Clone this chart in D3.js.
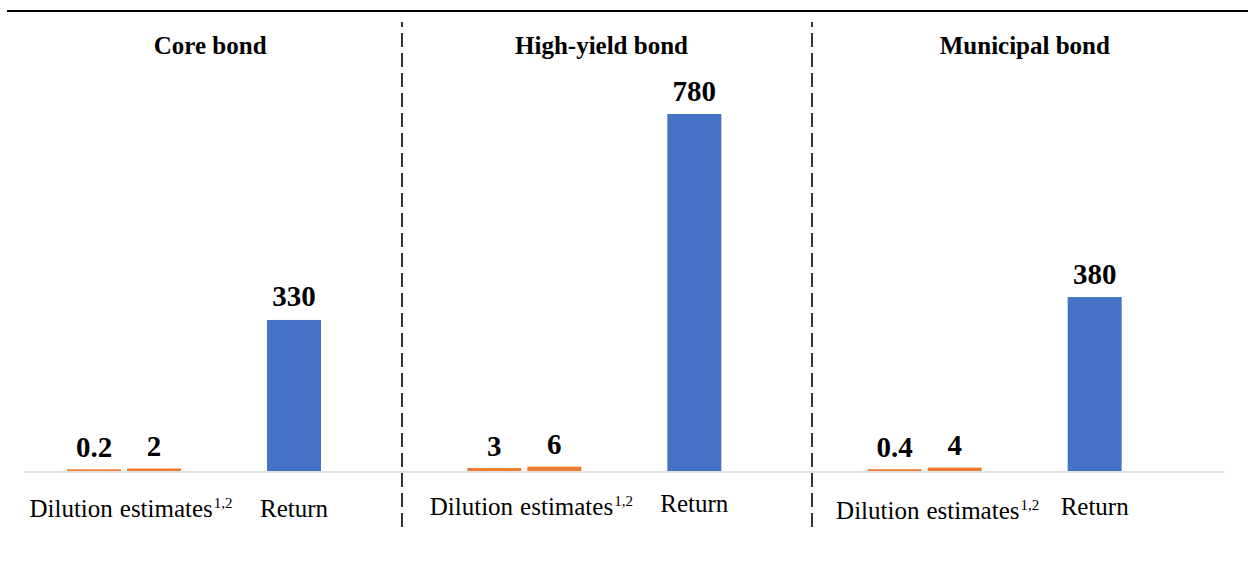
<!DOCTYPE html>
<html>
<head>
<meta charset="utf-8">
<script src="https://cdn.jsdelivr.net/npm/d3@7"></script>
<style>
  html, body { margin: 0; padding: 0; background: #ffffff; }
  svg { display: block; }
</style>
</head>
<body>
<svg id="chart" width="1248" height="566"></svg>
<script>
// Bond categories shown as side-by-side panels
const panels = ["Core bond", "High-yield bond", "Municipal bond"];
// Two dilution estimates per panel (orange) and the return (blue)
const dilutionA = [0.2, 3, 0.4];
const dilutionB = [2, 6, 4];
const returns = [330, 780, 380];
// Value labels as printed above each bar
const dilutionALabels = ["0.2", "3", "0.4"];
const dilutionBLabels = ["2", "6", "4"];
const returnLabels = ["330", "780", "380"];
// Axis captions
const groupNames = ["Dilution", "Return"];

const W = 1248, H = 566;
const FONT = "'Liberation Serif', 'Times New Roman', 'DejaVu Serif', serif";
const svg = d3.select("#chart").attr("font-family", FONT);

const ORANGE = "#ED7D31", BLUE = "#4472C4";
const baseY = 471;
const topY = 114;

// Panels across the width of the plot
const px = d3.scaleBand().domain(panels).range([24, 1225]).padding(0);
// Shared value scale
const y = d3.scaleLinear().domain([0, d3.max(returns)]).range([baseY, topY]);

// Within a panel: dilution group and return bar
const gx = d3.scaleBand().domain(groupNames).range([15, 355]).padding(0);
const pairX = d3.scaleBand().domain([0, 1]).paddingInner(0.1).paddingOuter(0);
const barW = pairX.copy().range([0, 114]).bandwidth();

// Small layout tweaks per panel
const titleShift = [-14, -23, 0];
const captionShift = [7, 7, 13];
const captionY = [[517, 517], [515, 512], [519, 515]];
const dividers = [402, 812];

// Top rule
svg.append("line")
  .attr("x1", 7).attr("x2", W).attr("y1", 11).attr("y2", 11)
  .attr("stroke", "#000").attr("stroke-width", 2);

// Dashed panel dividers
svg.selectAll("line.divider").data(dividers).join("line")
  .attr("class", "divider")
  .attr("x1", d => d).attr("x2", d => d)
  .attr("y1", 22).attr("y2", 531)
  .attr("stroke", "#000").attr("stroke-width", 1.6)
  .attr("stroke-dasharray", "14 6")
  .attr("stroke-dashoffset", 9);

panels.forEach((name, i) => {
  const x0 = px(name);
  const g = svg.append("g").attr("transform", `translate(${x0},0)`);

  // Panel title
  g.append("text")
    .attr("x", px.bandwidth() / 2 + titleShift[i])
    .attr("y", 54)
    .attr("text-anchor", "middle")
    .attr("font-size", 25)
    .attr("font-weight", "bold")
    .text(name);

  // Dilution estimate bars
  const dStart = gx("Dilution") + gx.bandwidth() / 2 - 57;
  const pair = pairX.copy().range([dStart, dStart + 114]);
  const dVals = [dilutionA[i], dilutionB[i]];
  const dLabs = [dilutionALabels[i], dilutionBLabels[i]];
  g.selectAll("rect.dil").data(dVals).join("rect")
    .attr("class", "dil")
    .attr("x", (d, j) => pair(j))
    .attr("width", pair.bandwidth())
    .attr("y", d => y(d) - 1.6)
    .attr("height", d => baseY - y(d) + 1.6)
    .attr("fill", ORANGE);
  g.selectAll("text.dlab").data(dVals).join("text")
    .attr("class", "dlab")
    .attr("x", (d, j) => pair(j) + pair.bandwidth() / 2)
    .attr("y", d => y(d) - 14)
    .attr("text-anchor", "middle")
    .attr("font-size", 29)
    .attr("font-weight", "bold")
    .text((d, j) => dLabs[j]);

  // Return bar
  const rc = gx("Return") + gx.bandwidth() / 2;
  g.append("rect")
    .attr("x", rc - barW / 2)
    .attr("width", barW)
    .attr("y", y(returns[i]))
    .attr("height", baseY - y(returns[i]))
    .attr("fill", BLUE);
  g.append("text")
    .attr("x", rc)
    .attr("y", y(returns[i]) - 13.5)
    .attr("text-anchor", "middle")
    .attr("font-size", 29)
    .attr("font-weight", "bold")
    .text(returnLabels[i]);

  // Captions under the baseline
  const cap = g.append("text")
    .attr("x", gx("Dilution") + gx.bandwidth() / 2 + captionShift[i])
    .attr("y", captionY[i][0])
    .attr("text-anchor", "middle")
    .attr("font-size", 25);
  cap.append("tspan").text("Dilution");
  cap.append("tspan").attr("dx", 7).text("estimates");
  cap.append("tspan").attr("font-size", 15).attr("dx", 1).attr("dy", -9).text("1,2");

  g.append("text")
    .attr("x", rc)
    .attr("y", captionY[i][1])
    .attr("text-anchor", "middle")
    .attr("font-size", 25)
    .text("Return");
});

// Category baseline
svg.append("line")
  .attr("x1", px.range()[0]).attr("x2", px.range()[1])
  .attr("y1", baseY + 1).attr("y2", baseY + 1)
  .attr("stroke", "#d9d9d9").attr("stroke-width", 1.5);
</script>
</body>
</html>
